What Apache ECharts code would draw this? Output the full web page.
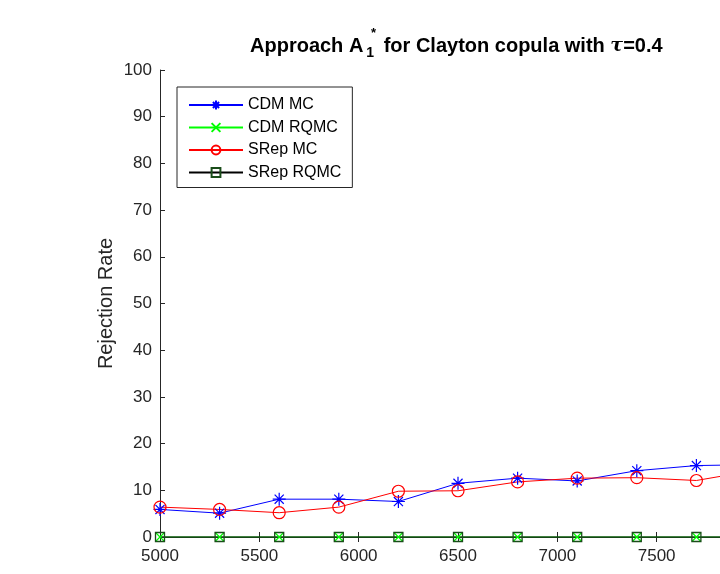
<!DOCTYPE html>
<html>
<head>
<meta charset="utf-8">
<script src="https://cdn.jsdelivr.net/npm/echarts@6/dist/echarts.min.js"></script>
<style>
  html, body { margin: 0; padding: 0; background: #fff; overflow: hidden; }
  /* plot box runs past the right edge of the window, like the reference crop */
  #chart { width: 800px; height: 574px; }
</style>
</head>
<body>
<div id="chart"></div>
<script>
// sample sizes (x) and rejection rates (%)
const sampleSizes = [5000, 5300, 5600, 5900, 6200, 6500, 6800, 7100, 7400, 7700, 8000];
const cdmMC = [5.9, 5.1, 8.1, 8.1, 7.6, 11.5, 12.6, 12.0, 14.2, 15.3, 15.5];
const cdmRQMC = [0, 0, 0, 0, 0, 0, 0, 0, 0, 0, 0];
const srepMC = [6.4, 5.9, 5.2, 6.4, 9.8, 9.9, 11.8, 12.6, 12.7, 12.1, 14.3];
const srepRQMC = [0, 0, 0, 0, 0, 0, 0, 0, 0, 0, 0];

const FONT = 'Liberation Sans';
const AXIS_COLOR = '#262626';

const toPairs = vals => sampleSizes.map((x, i) => [x, vals[i]]);

// marker shapes
const starPath = 'path://M0,-10 L0,10 M-10,0 L10,0 M-7,-7 L7,7 M-7,7 L7,-7';
const crossPath = 'path://M-10,-10 L10,10 M-10,10 L10,-10';

const chart = echarts.init(document.getElementById('chart'));

const axisCommon = {
    axisLine: { show: true, lineStyle: { color: AXIS_COLOR, width: 1 } },
    axisTick: { show: true, inside: true, length: 5, lineStyle: { color: AXIS_COLOR } },
    splitLine: { show: false }
};

const option = {
    backgroundColor: '#fff',
    animation: false,
    title: {
        left: 245,
        top: 27,
        text: 'Approach A{sub|1} for Clayton copula with {tau|τ}=0.4',
        textStyle: {
            fontFamily: FONT,
            fontSize: 20,
            fontWeight: 'bold',
            color: '#000',
            rich: {
                sub: { fontFamily: FONT, fontSize: 14, fontWeight: 'bold', color: '#000', padding: [14, 4, 0, 3] },
                tau: { fontFamily: 'DejaVu Serif', fontSize: 19, fontStyle: 'italic', color: '#000' }
            }
        }
    },
    graphic: [{
        type: 'text',
        left: 371,
        top: 27,
        style: { text: '*', fontFamily: FONT, fontSize: 13, fontWeight: 'bold', fill: '#000' }
    }],
    legend: {
        orient: 'vertical',
        left: 177,
        top: 87,
        itemWidth: 54,
        itemHeight: 11,
        itemGap: 6.5,
        padding: [10, 11, 7, 11],
        borderColor: '#262626',
        borderWidth: 1,
        backgroundColor: '#fff',
        textStyle: { fontFamily: FONT, fontSize: 16, color: '#000' },
        data: ['CDM MC', 'CDM RQMC', 'SRep MC', 'SRep RQMC']
    },
    grid: { left: 160, top: 70, right: 44, bottom: 37 },
    xAxis: [{
        type: 'value',
        min: 5000,
        max: 8000,
        interval: 500,
        ...axisCommon,
        axisLabel: { fontFamily: FONT, fontSize: 17, color: AXIS_COLOR, margin: 11, formatter: v => String(v) }
    }, {
        type: 'value',
        position: 'top',
        min: 5000,
        max: 8000,
        interval: 500,
        ...axisCommon,
        axisLabel: { show: false }
    }],
    yAxis: [{
        type: 'value',
        min: 0,
        max: 100,
        interval: 10,
        ...axisCommon,
        name: 'Rejection Rate',
        nameLocation: 'middle',
        nameGap: 44,
        nameMoveOverlap: false,
        nameTextStyle: { fontFamily: FONT, fontSize: 20, color: AXIS_COLOR },
        axisLabel: { fontFamily: FONT, fontSize: 17, color: AXIS_COLOR, margin: 8 }
    }, {
        type: 'value',
        position: 'right',
        min: 0,
        max: 100,
        interval: 10,
        ...axisCommon,
        axisLabel: { show: false }
    }],
    series: [{
        name: 'CDM MC',
        type: 'line',
        data: toPairs(cdmMC),
        symbol: starPath,
        symbolSize: 13,
        lineStyle: { color: '#0000ff', width: 1 },
        itemStyle: { color: '#0000ff', borderColor: '#0000ff', borderWidth: 1.2 }
    }, {
        name: 'CDM RQMC',
        type: 'line',
        data: toPairs(cdmRQMC),
        symbol: crossPath,
        symbolSize: 9,
        lineStyle: { color: '#00ff00', width: 1 },
        itemStyle: { color: '#00ff00', borderColor: '#00ff00', borderWidth: 1.2 }
    }, {
        name: 'SRep MC',
        type: 'line',
        data: toPairs(srepMC),
        symbol: 'circle',
        symbolSize: 12,
        lineStyle: { color: '#ff0000', width: 1 },
        itemStyle: { color: 'rgba(255,255,255,0)', borderColor: '#ff0000', borderWidth: 1.2 }
    }, {
        name: 'SRep RQMC',
        type: 'line',
        data: toPairs(srepRQMC),
        symbol: 'rect',
        symbolSize: 9,
        lineStyle: { color: '#000', width: 1 },
        itemStyle: { color: 'rgba(255,255,255,0)', borderColor: '#1a4d1a', borderWidth: 1.3 }
    }]
};

chart.setOption(option);
</script>
</body>
</html>
